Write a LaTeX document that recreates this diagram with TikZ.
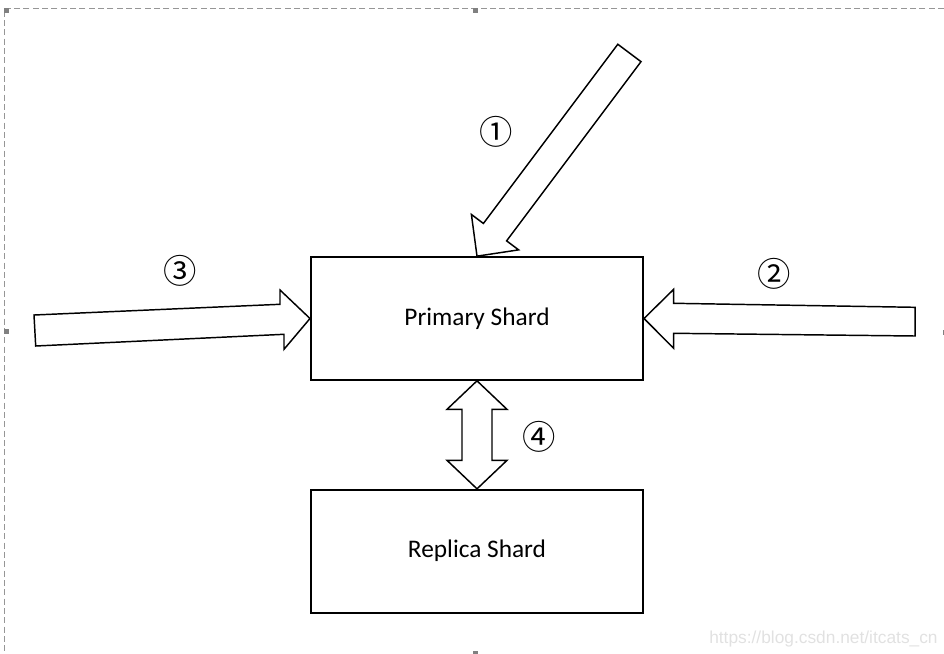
\documentclass[tikz,border=0pt]{standalone}
\usepackage{fontspec}
\setmainfont{Carlito}
\newfontfamily\circfont{Noto Sans CJK SC}
\newfontfamily\wmfont{Liberation Sans}
\usetikzlibrary{positioning}
\tikzset{
  shard/.style={draw, line width=1.5pt, minimum width=249pt, minimum height=92pt, inner sep=0pt, font=\fontsize{19}{22}\selectfont},
  blockarrow/.style={draw, line width=1.1pt, fill=white, line join=miter},
  stepnum/.style={inner sep=0pt, font=\circfont\fontsize{25}{27}\selectfont},
  handle/.style={fill={rgb, 255:red, 128; green, 128; blue, 128 }},
  frame/.style={draw={rgb, 255:red, 150; green, 150; blue, 150 }, line width=0.75pt, dash pattern=on 4.5pt off 2.5pt}
}

\begin{document}
\begin{tikzpicture}[x=0.75pt,y=0.75pt,yscale=-1,xscale=1]
\useasboundingbox (0,0) rectangle (944,653);

%Shape: Frame
\draw [frame] (944,8) -- (4,8) -- (4,653) ;
%Shape: Handles
\foreach \hx/\hy in {4/8, 473/8, 4/329, 943/330, 473/651}
  \fill [handle] (\hx,\hy) rectangle ++(5,5) ;

%Shape: Rectangle [primary]
\node [shard] (primary) at (477,318.5) {Primary Shard};
%Shape: Rectangle [replica]
\node [shard, below=81pt of primary] (replica) {Replica Shard};

%Block Arrow [one]
\draw [blockarrow] (primary.north) -- +(-5.6,-41.7) -- +(6.4,-32.7) -- +(140.8,-211.9) -- +(164,-194.5) -- +(29.6,-15.3) -- +(41.6,-6.3) -- cycle ;
%Block Arrow [two]
\draw [blockarrow] (primary.east) -- +(29.7,-29.2) -- +(29.7,-15.2) -- +(271,-11.2) -- +(271,17.5) -- +(29.7,14.8) -- +(29.7,29.8) -- cycle ;
%Block Arrow [three]
\draw [blockarrow] (primary.west) -- +(-30,-28.5) -- +(-30,-14.2) -- +(-276,-3.5) -- +(-274.3,27.5) -- +(-26,15.8) -- +(-26,30.8) -- cycle ;
%Double Arrow [four]
\draw [blockarrow] (primary.south) -- +(30,28.5) -- +(15,28.5) -- +(15,79.5) -- +(30,79.5) -- (replica.north) -- +(-30,-28.5) -- +(-15,-28.5) -- +(-15,-79.5) -- +(-30,-79.5) -- cycle ;

% Text Node
\node [stepnum] (one) at (496,131.5) {①};
% Text Node
\node [stepnum] (two) at (774,274) {②};
% Text Node
\node [stepnum] (three) at (180,270.5) {③};
% Text Node
\node [stepnum] (four) at (539,437) {④};
% Text Node
\node [anchor=base west, inner sep=0pt, text={rgb, 255:red, 225; green, 225; blue, 225 }, font=\wmfont\fontsize{13}{15}\selectfont] (mark) at (709,643) {https://blog.csdn.net/itcats\_cn};

\end{tikzpicture}
\end{document}
